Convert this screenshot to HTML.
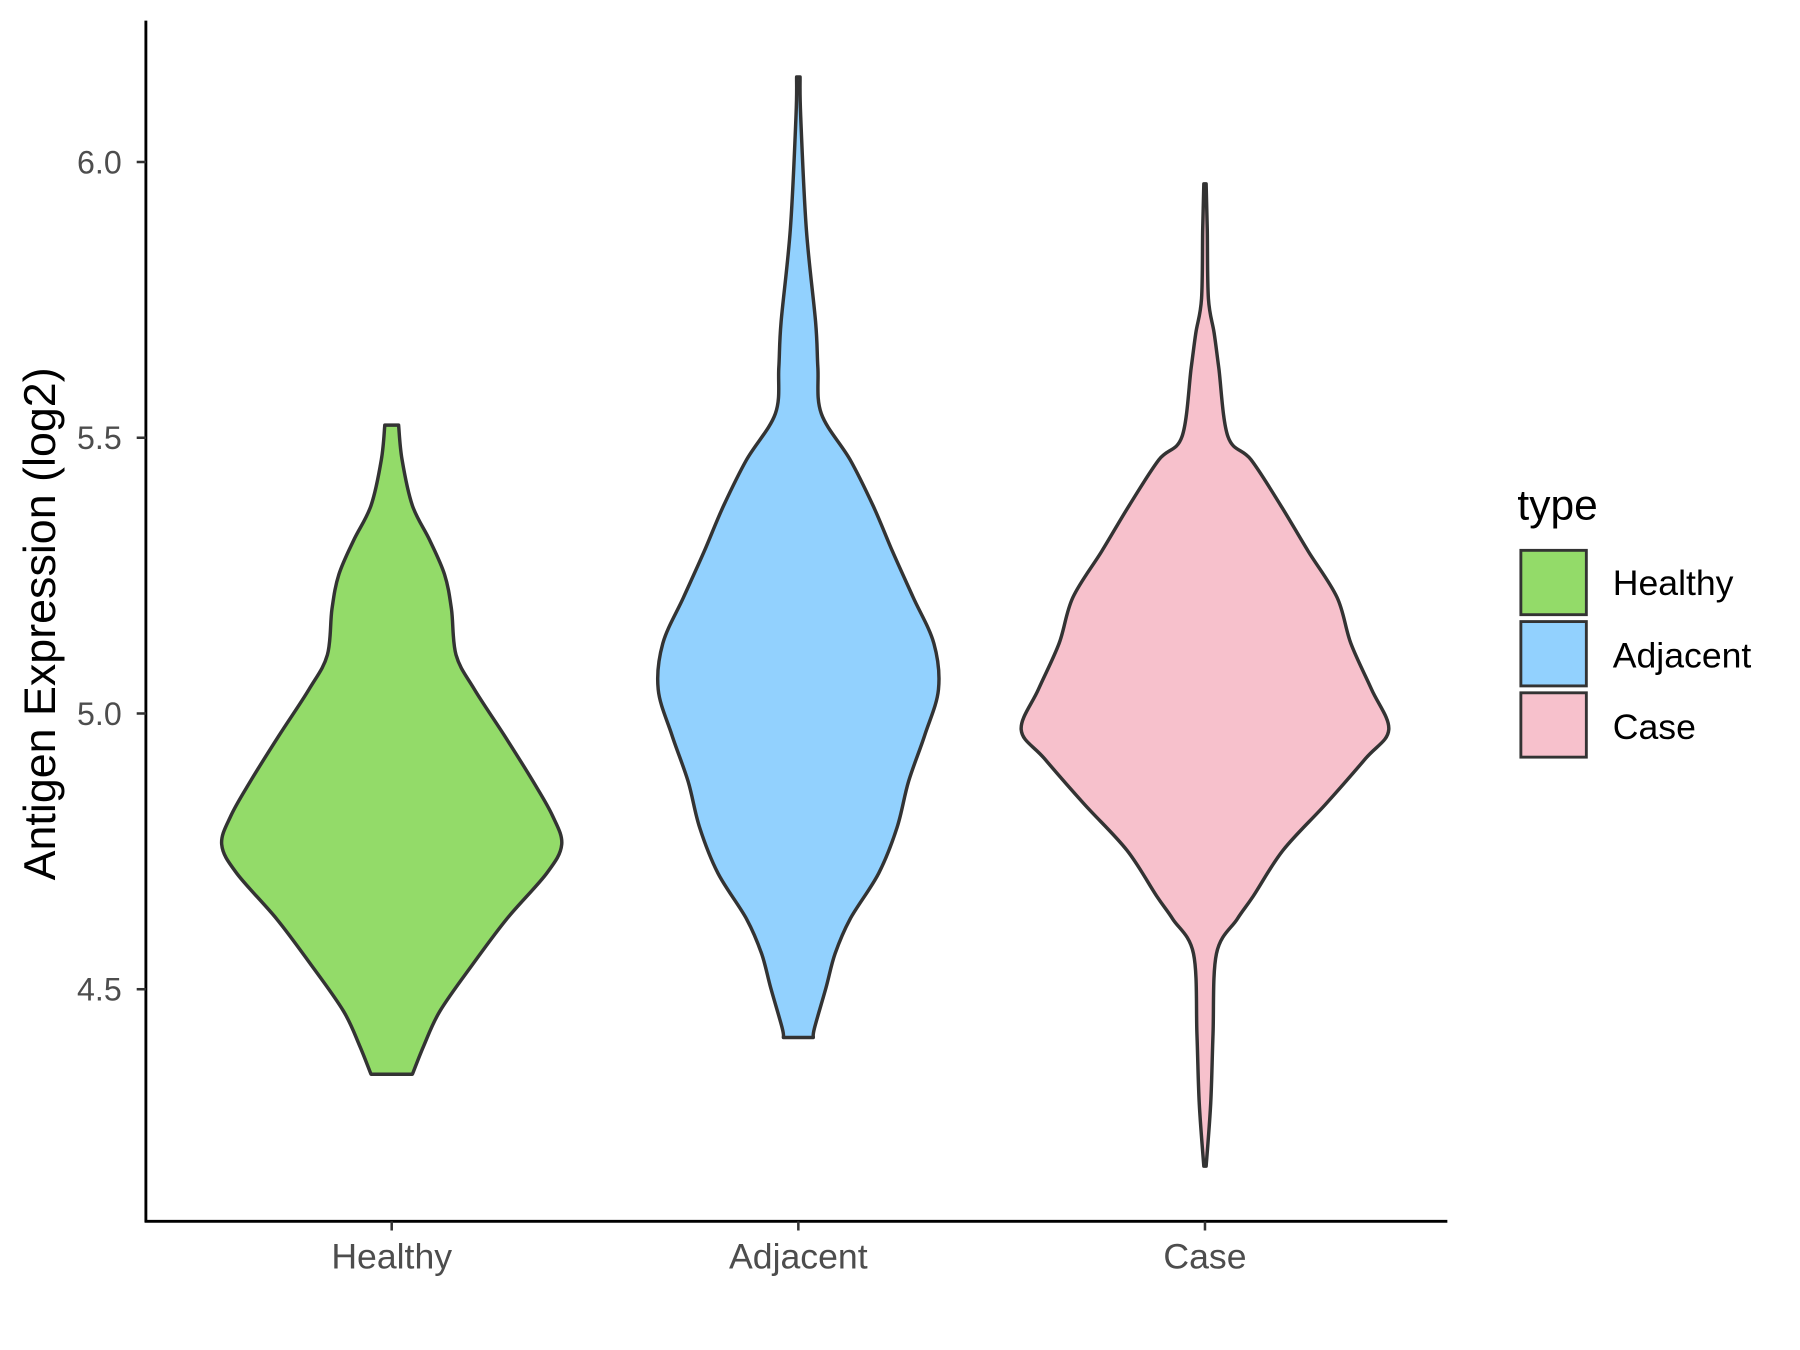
<!DOCTYPE html>
<html><head><meta charset="utf-8"><style>
html,body{margin:0;padding:0;background:#fff;}
svg{display:block;}
text{font-family:"Liberation Sans",Arial,sans-serif;}
</style></head><body>
<svg id="s" width="1800" height="1350" viewBox="0 0 1567 1175" preserveAspectRatio="none" xmlns="http://www.w3.org/2000/svg">
<rect width="1567" height="1175" fill="#fff"/>
<g id="v"></g>
<line x1="127" y1="18" x2="127" y2="1064" stroke="#000" stroke-width="2.5"/>
<line x1="126" y1="1063" x2="1260" y2="1063" stroke="#000" stroke-width="2.5"/>
<g stroke="#333" stroke-width="2.2">
<line x1="119" y1="141" x2="127" y2="141"/><line x1="119" y1="381" x2="127" y2="381"/>
<line x1="119" y1="621" x2="127" y2="621"/><line x1="119" y1="861" x2="127" y2="861"/>
<line x1="341" y1="1063" x2="341" y2="1071"/><line x1="695" y1="1063" x2="695" y2="1071"/>
<line x1="1049" y1="1063" x2="1049" y2="1071"/>
</g>
<g fill="#4d4d4d" font-size="28" text-anchor="end">
<text x="106" y="151">6.0</text><text x="106" y="391">5.5</text>
<text x="106" y="631">5.0</text><text x="106" y="871">4.5</text>
</g>
<g fill="#4d4d4d" font-size="31" text-anchor="middle">
<text x="341" y="1104">Healthy</text><text x="695" y="1104">Adjacent</text><text x="1049" y="1104">Case</text>
</g>
<text transform="translate(48,543) rotate(-90)" font-size="39" text-anchor="middle" fill="#000">Antigen Expression (log2)</text>
<text x="1321" y="452" font-size="37" fill="#000">type</text>
<g stroke="#333" stroke-width="2.5">
<rect x="1324" y="479" width="57" height="56" fill="#93DB69"/>
<rect x="1324" y="541" width="57" height="56" fill="#92D1FE"/>
<rect x="1324" y="603" width="57" height="56" fill="#F7C1CC"/>
</g>
<g font-size="31" fill="#000">
<text x="1404" y="518">Healthy</text><text x="1404" y="581">Adjacent</text><text x="1404" y="643">Case</text>
</g>
</svg>
<script>
function violin(cx,pts,fill){
 var r=pts.map(function(p){return [cx+p[1],p[0]];});
 var l=pts.slice().reverse().map(function(p){return [cx-p[1],p[0]];});
 function cr(a){var d="";for(var i=0;i<a.length-1;i++){var p0=a[Math.max(i-1,0)],p1=a[i],p2=a[i+1],p3=a[Math.min(i+2,a.length-1)];
  var c1=[p1[0]+(p2[0]-p0[0])/6,p1[1]+(p2[1]-p0[1])/6],c2=[p2[0]-(p3[0]-p1[0])/6,p2[1]-(p3[1]-p1[1])/6];
  d+=" C"+c1[0].toFixed(1)+","+c1[1].toFixed(1)+" "+c2[0].toFixed(1)+","+c2[1].toFixed(1)+" "+p2[0].toFixed(1)+","+p2[1].toFixed(1);}return d;}
 var d="M"+r[0][0]+","+r[0][1]+cr(r)+" L"+l[0][0]+","+l[0][1]+cr(l)+" Z";
 var p=document.createElementNS("http://www.w3.org/2000/svg","path");
 p.setAttribute("d",d);p.setAttribute("fill",fill);p.setAttribute("stroke","#333");p.setAttribute("stroke-width","3");p.setAttribute("stroke-linejoin","round");
 document.getElementById("v").appendChild(p);
}
violin(341,[[370,6],[400,9],[440,18],[470,33],[500,46],[530,52],[570,56],[600,72],[640,98],[680,123],[710,140],[735,148],[760,135],[800,100],[840,70],[880,42],[910,28],[935,18]],"#93DB69");
violin(695,[[67,1.5],[100,2],[200,7],[280,15],[320,17],[360,20],[400,45],[440,65],[480,82],[520,100],[560,118],[600,122],[640,110],[680,96],[720,86],[760,70],[800,45],[830,32],[860,24],[895,14],[903,13]],"#92D1FE");
violin(1049,[[160,1],[200,2],[260,3],[290,8],[320,12],[380,20],[400,40],[440,66],[480,90],[520,115],[560,127],[600,145],[635,160],[660,140],[700,105],[740,68],[780,42],[800,28],[830,10],[900,7],[960,5],[1015,1]],"#F7C1CC");
</script>
</body></html>
